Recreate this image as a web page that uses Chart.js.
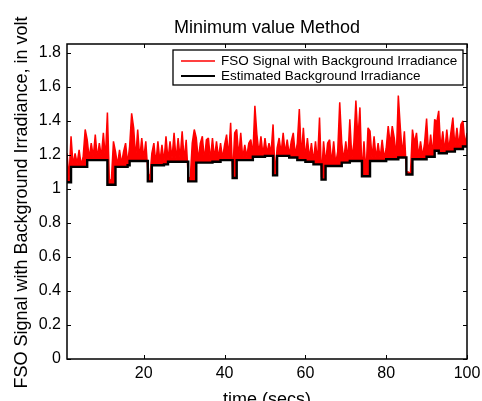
<!DOCTYPE html>
<html>
<head>
<meta charset="utf-8">
<script src="https://cdn.jsdelivr.net/npm/chart.js@4.4.1/dist/chart.umd.min.js"></script>
<style>
html,body{margin:0;padding:0;background:#fff;}
canvas{display:block;}
</style>
</head>
<body>
<canvas id="chart" width="482" height="401"></canvas>
<script>
const FONT='"Liberation Sans", Arial, Helvetica, sans-serif';

const timeStart=1,timeStep=0.5;//one sample every half second, 1..100 s
const fsoSignal=[
  1.21,1.06,1.31,1.14,1.21,1.15,1.23,1.14,1.19,1.35,
  1.29,1.18,1.27,1.19,1.32,1.18,1.27,1.19,1.33,1.18,
  1.45,1.04,1.06,1.28,1.22,1.14,1.23,1.15,1.22,1.27,
  1.15,1.25,1.445,1.36,1.18,1.35,1.18,1.30,1.18,1.28,
  1.10,1.06,1.21,1.27,1.15,1.28,1.16,1.26,1.16,1.31,
  1.17,1.28,1.18,1.33,1.17,1.30,1.18,1.34,1.17,1.29,
  1.07,1.06,1.27,1.35,1.30,1.17,1.27,1.31,1.17,1.29,
  1.30,1.17,1.30,1.18,1.28,1.18,1.27,1.18,1.26,1.32,
  1.19,1.39,1.08,1.33,1.35,1.19,1.33,1.18,1.26,1.19,
  1.27,1.29,1.20,1.49,1.32,1.21,1.31,1.20,1.30,1.21,
  1.27,1.21,1.38,1.09,1.24,1.30,1.21,1.33,1.21,1.29,
  1.20,1.28,1.33,1.20,1.27,1.47,1.19,1.36,1.18,1.30,
  1.18,1.27,1.16,1.28,1.16,1.42,1.07,1.28,1.15,1.27,
  1.29,1.15,1.28,1.15,1.22,1.51,1.27,1.17,1.28,1.17,
  1.41,1.18,1.27,1.52,1.29,1.48,1.09,1.28,1.09,1.36,
  1.34,1.18,1.31,1.18,1.27,1.18,1.29,1.18,1.24,1.37,
  1.26,1.37,1.30,1.19,1.55,1.36,1.20,1.34,1.10,1.10,
  1.09,1.35,1.27,1.33,1.19,1.28,1.19,1.27,1.415,1.20,
  1.32,1.20,1.41,1.39,1.46,1.23,1.34,1.22,1.35,1.23,
  1.33,1.42,1.25,1.36,1.25,1.38,1.40,1.26,1.33
];
const background=[
  1.04,1.04,1.13,1.13,1.13,1.13,1.13,1.13,1.13,1.13,
  1.17,1.17,1.17,1.17,1.17,1.17,1.17,1.17,1.17,1.17,
  1.025,1.025,1.025,1.025,1.13,1.13,1.13,1.13,1.13,1.13,
  1.14,1.165,1.165,1.165,1.165,1.165,1.165,1.165,1.165,1.165,
  1.045,1.045,1.14,1.14,1.14,1.14,1.14,1.14,1.145,1.145,
  1.16,1.16,1.16,1.16,1.16,1.16,1.16,1.16,1.16,1.16,
  1.045,1.045,1.045,1.045,1.155,1.155,1.155,1.155,1.155,1.155,
  1.155,1.155,1.16,1.16,1.16,1.16,1.17,1.17,1.17,1.17,
  1.17,1.17,1.065,1.065,1.17,1.17,1.17,1.17,1.17,1.17,
  1.17,1.17,1.19,1.19,1.19,1.19,1.19,1.19,1.195,1.195,
  1.195,1.195,1.08,1.08,1.195,1.195,1.195,1.195,1.195,1.195,
  1.185,1.185,1.185,1.185,1.17,1.17,1.17,1.17,1.16,1.16,
  1.16,1.16,1.145,1.145,1.145,1.145,1.055,1.055,1.135,1.135,
  1.135,1.135,1.135,1.135,1.135,1.135,1.155,1.155,1.155,1.155,
  1.165,1.165,1.165,1.165,1.165,1.165,1.075,1.075,1.075,1.075,
  1.165,1.165,1.165,1.165,1.165,1.165,1.165,1.165,1.175,1.175,
  1.175,1.175,1.175,1.175,1.185,1.185,1.185,1.185,1.085,1.085,
  1.085,1.175,1.175,1.175,1.175,1.175,1.175,1.175,1.19,1.19,
  1.19,1.19,1.225,1.225,1.21,1.21,1.21,1.21,1.22,1.22,
  1.22,1.22,1.235,1.235,1.235,1.235,1.25,1.25,1.25
];
const xTicks=[20,40,60,80,100];
const yTicks=[0,0.2,0.4,0.6,0.8,1,1.2,1.4,1.6,1.8];
const yTickLabels=['0','0.2','0.4','0.6','0.8','1','1.2','1.4','1.6','1.8'];

const seriesNames=['FSO Signal with Background Irradiance','Estimated Background Irradiance'];
const chartTitle='Minimum value Method';
const xTitle='time (secs)';
const yTitle='FSO Signal with Background Irradiance, in volt';

function toPoints(values){//pair every value with its time
    return values.map((v,i)=>({x:timeStart+i*timeStep,y:v}));
}

const frame={//box, inward ticks, titles and legend drawn like matlab does
    id:'frame',
    afterDraw(chart){
        const c=chart.ctx,a=chart.chartArea,sx=chart.scales.x,sy=chart.scales.y;
        c.save();
        c.strokeStyle='#000';
        c.lineWidth=1;
        c.beginPath();
        xTicks.forEach(v=>{
            const p=Math.round(sx.getPixelForValue(v))+0.5;
            c.moveTo(p,a.bottom);c.lineTo(p,a.bottom-4);
            c.moveTo(p,a.top);c.lineTo(p,a.top+4);
        });
        yTicks.forEach(v=>{
            const p=Math.round(sy.getPixelForValue(v))+0.5;
            c.moveTo(a.left,p);c.lineTo(a.left+4,p);
            c.moveTo(a.right,p);c.lineTo(a.right-4,p);
        });
        c.stroke();
        c.lineWidth=1.5;
        c.strokeRect(a.left,a.top,a.right-a.left,a.bottom-a.top);

        c.fillStyle='#000';
        c.textAlign='center';
        c.textBaseline='alphabetic';
        c.font='18px '+FONT;
        c.fillText(chartTitle,(a.left+a.right)/2,33);
        c.fillText(xTitle,(a.left+a.right)/2,405);
        c.save();
        c.translate(26.5,(a.top+a.bottom)/2+1);
        c.rotate(-Math.PI/2);
        c.fillText(yTitle,0,0);
        c.restore();

        //legend box in the top right corner
        c.fillStyle='#fff';
        c.fillRect(173,50,290,35);
        c.lineWidth=1.3;
        c.strokeRect(173,50,290,35);
        const colors=['#ff0000','#000'];
        c.font='13.5px '+FONT;
        c.textAlign='left';
        c.textBaseline='middle';
        seriesNames.forEach((name,i)=>{
            const y=61+i*15;
            c.strokeStyle=colors[i];
            c.lineWidth=i?2:1.6;
            c.beginPath();c.moveTo(181,y);c.lineTo(215,y);c.stroke();
            c.fillStyle='#000';
            c.fillText(name,221,y+0.5);
        });
        c.restore();
    }
};

const chart=new Chart(document.getElementById('chart'),{
    type:'line',
    data:{
        datasets:[{
            label:seriesNames[1],
            data:toPoints(background),
            borderColor:'#000',
            borderWidth:2.4,
            stepped:true,
            pointRadius:0,
            order:0
        },{
            label:seriesNames[0],
            data:toPoints(fsoSignal),
            borderColor:'#ff0000',
            backgroundColor:'#ff0000',
            fill:0,//dense signal: fill down to the background trace
            borderWidth:1.5,
            borderJoinStyle:'bevel',
            pointRadius:0,
            order:1
        }]
    },
    options:{
        responsive:false,
        animation:false,
        devicePixelRatio:1,
        layout:{padding:{top:44,right:15,left:0,bottom:0}},
        plugins:{legend:{display:false},tooltip:{enabled:false},filler:{propagate:false}},
        scales:{
            x:{
                type:'linear',min:1,max:100,
                grid:{display:false,drawTicks:false},
                border:{display:false},
                afterFit:s=>{s.height=42;s.paddingLeft=0;s.paddingRight=0;},
                afterBuildTicks:s=>{s.ticks=xTicks.map(v=>({value:v}));},
                ticks:{font:{family:FONT,size:16},color:'#000',padding:5,maxRotation:0,autoSkip:false,callback:v=>String(v)}
            },
            y:{
                min:0,max:1.853,
                grid:{display:false,drawTicks:false},
                border:{display:false},
                afterFit:s=>{s.width=67;s.paddingTop=0;s.paddingBottom=0;},
                afterBuildTicks:s=>{s.ticks=yTicks.map(v=>({value:v}));},
                ticks:{font:{family:FONT,size:16},color:'#000',padding:6,autoSkip:false,callback:(v,i)=>yTickLabels[i]}
            }
        }
    },
    plugins:[frame]
});
</script>
</body>
</html>
